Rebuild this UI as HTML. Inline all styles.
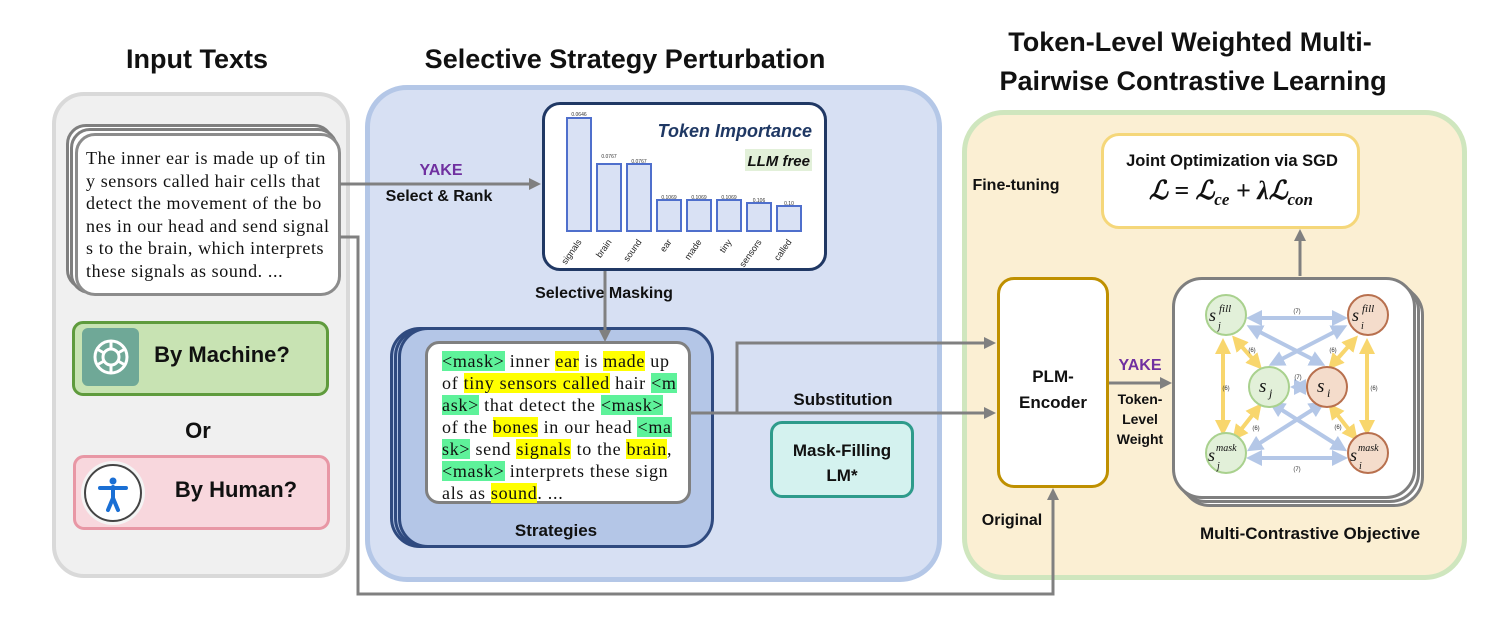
<!DOCTYPE html>
<html><head><meta charset="utf-8">
<style>
body{margin:0;width:1495px;height:620px;background:#fff;position:relative;overflow:hidden;font-family:"Liberation Sans",sans-serif;}
.a{position:absolute;box-sizing:border-box;}
.t{position:absolute;font-weight:bold;color:#111;white-space:nowrap;transform:translateX(-50%);}
.serif{font-family:"Liberation Serif",serif;}
.g{background:#5ef29a;}
.y{background:#ffff00;}
</style></head><body>
<!-- titles -->
<div class="t" style="left:197px;top:44px;font-size:27px;">Input Texts</div>
<div class="t" style="left:625px;top:44px;font-size:27px;">Selective Strategy Perturbation</div>
<div class="t" style="left:1190px;top:27px;font-size:27px;">Token-Level Weighted Multi-</div>
<div class="t" style="left:1193px;top:66px;font-size:27px;">Pairwise Contrastive Learning</div>

<!-- left panel -->
<div class="a" style="left:52px;top:92px;width:298px;height:486px;background:#f0f0f0;border:4px solid #d9d9d9;border-radius:32px;"></div>
<div class="a" style="left:66px;top:124px;width:268px;height:166px;background:#fff;border:3px solid #7f7f7f;border-radius:20px;"></div>
<div class="a" style="left:70px;top:128px;width:268px;height:166px;background:#fff;border:3px solid #7f7f7f;border-radius:20px;"></div>
<div class="a serif" style="left:75px;top:133px;width:266px;height:163px;background:#fff;border:3px solid #8c8c8c;border-radius:20px;padding:11px 0 0 8px;font-size:18px;letter-spacing:0.6px;line-height:22.5px;color:#111;white-space:nowrap;">The inner ear is made up of tin<br>y sensors called hair cells that<br>detect the movement of the bo<br>nes in our head and send signal<br>s to the brain, which interprets<br>these signals as sound. ...</div>

<div class="a" style="left:72px;top:321px;width:257px;height:75px;background:#c8e3b3;border:3px solid #5f9b3d;border-radius:11px;"></div>
<div class="a" style="left:82px;top:328px;width:57px;height:58px;background:#6fa897;border-radius:6px;"></div>
<svg class="a" style="left:86px;top:333px" width="50" height="48" viewBox="0 0 50 48"><g fill="none" stroke="#fff" stroke-width="3"><circle cx="25" cy="24" r="16"/><circle cx="25" cy="24" r="8"/><path d="M25 8 L25 16 M39 16 L32 20 M39 32 L32 28 M25 40 L25 32 M11 32 L18 28 M11 16 L18 20"/></g></svg>
<div class="t" style="left:222px;top:342px;font-size:22px;">By Machine?</div>
<div class="t" style="left:198px;top:418px;font-size:22px;">Or</div>
<div class="a" style="left:73px;top:455px;width:257px;height:75px;background:#f8d7dd;border:3px solid #e897a5;border-radius:11px;"></div>
<div class="a" style="left:84px;top:464px;width:58px;height:58px;background:#fff;border:2px solid #444;border-radius:50%;box-shadow:0 0 0 3px #f4f4f4;"></div>
<svg class="a" style="left:90px;top:470px" width="46" height="46" viewBox="0 0 46 46"><circle cx="23" cy="11" r="3.5" fill="#1a6fd4"/><path d="M10 18 L36 18 M23 17 L23 28 M23 28 L18 40 M23 28 L28 40" stroke="#1a6fd4" stroke-width="4" fill="none" stroke-linecap="round"/></svg>
<div class="t" style="left:236px;top:477px;font-size:22px;">By Human?</div>

<!-- middle panel -->
<div class="a" style="left:365px;top:85px;width:577px;height:497px;background:#d7e0f3;border:5px solid #b4c7e7;border-radius:42px;"></div>
<div class="a" style="left:542px;top:102px;width:285px;height:169px;background:#fff;border:3px solid #203864;border-radius:18px;"></div>
<svg class="a" style="left:542px;top:102px" width="285" height="169">
<g fill="#d9e1f4" stroke="#4f6fcc" stroke-width="2">
<rect x="25" y="16" width="24" height="113"/><rect x="55" y="62" width="24" height="67"/><rect x="85" y="62" width="24" height="67"/><rect x="115" y="98" width="24" height="31"/><rect x="145" y="98" width="24" height="31"/><rect x="175" y="98" width="24" height="31"/><rect x="205" y="101" width="24" height="28"/><rect x="235" y="104" width="24" height="25"/>
</g>
<g font-size="5" fill="#333" text-anchor="middle" font-family="Liberation Sans">
<text x="37" y="14">0.0646</text><text x="67" y="56">0.0767</text><text x="97" y="61">0.0767</text><text x="127" y="97">0.1069</text><text x="157" y="97">0.1069</text><text x="187" y="97">0.1069</text><text x="217" y="100">0.106</text><text x="247" y="103">0.10</text>
</g>
<g font-size="9" fill="#222" font-family="Liberation Sans" text-anchor="end">
<text transform="translate(40,140) rotate(-55)">signals</text><text transform="translate(70,140) rotate(-55)">brain</text><text transform="translate(100,140) rotate(-55)">sound</text><text transform="translate(130,140) rotate(-55)">ear</text><text transform="translate(160,140) rotate(-55)">made</text><text transform="translate(190,140) rotate(-55)">tiny</text><text transform="translate(220,140) rotate(-55)">sensors</text><text transform="translate(250,140) rotate(-55)">called</text>
</g>
<text x="270" y="35" text-anchor="end" font-size="18" font-weight="bold" font-style="italic" fill="#1f3864" font-family="Liberation Sans">Token Importance</text>
<rect x="203" y="47" width="67" height="22" fill="#e2f0d9"/>
<text x="268" y="64" text-anchor="end" font-size="15" font-weight="bold" font-style="italic" fill="#111" font-family="Liberation Sans">LLM free</text>
</svg>
<div class="t" style="left:441px;top:162px;font-size:16px;color:#7030a0;">YAKE</div>
<div class="t" style="left:439px;top:188px;font-size:16px;">Select &amp; Rank</div>
<div class="t" style="left:604px;top:285px;font-size:16px;">Selective Masking</div>

<div class="a" style="left:390px;top:327px;width:316px;height:221px;background:#b4c6e7;border:3px solid #2f4a7f;border-radius:30px;"></div>
<div class="a" style="left:394px;top:327px;width:316px;height:221px;background:#b4c6e7;border:3px solid #2f4a7f;border-radius:30px;"></div>
<div class="a" style="left:398px;top:327px;width:316px;height:221px;background:#b4c6e7;border:3px solid #2f4a7f;border-radius:30px;"></div>
<div class="a serif" style="left:425px;top:341px;width:266px;height:163px;background:#fff;border:3px solid #808080;border-radius:14px;padding:6px 0 0 14px;font-size:18px;letter-spacing:0.7px;line-height:22px;color:#111;white-space:nowrap;"><span class="g">&lt;mask&gt;</span> inner <span class="y">ear</span> is <span class="y">made</span> up<br>of <span class="y">tiny sensors called</span> hair <span class="g">&lt;m</span><br><span class="g">ask&gt;</span> that detect the <span class="g">&lt;mask&gt;</span><br>of the <span class="y">bones</span> in our head <span class="g">&lt;ma</span><br><span class="g">sk&gt;</span> send <span class="y">signals</span> to the <span class="y">brain</span>,<br><span class="g">&lt;mask&gt;</span> interprets these sign<br>als as <span class="y">sound</span>. ...</div>
<div class="t" style="left:556px;top:521px;font-size:17px;">Strategies</div>
<div class="t" style="left:843px;top:390px;font-size:17px;">Substitution</div>
<div class="a" style="left:770px;top:421px;width:144px;height:77px;background:#d4f2ef;border:3px solid #2e9b8b;border-radius:12px;"></div>
<div class="t" style="left:842px;top:438px;font-size:17px;text-align:center;line-height:25px;">Mask-Filling<br>LM*</div>

<!-- right panel -->
<div class="a" style="left:962px;top:110px;width:505px;height:470px;background:#fbefd3;border:5px solid #cfe6be;border-radius:42px;"></div>
<div class="a" style="left:1101px;top:133px;width:259px;height:96px;background:#fff;border:3px solid #f5d77a;border-radius:18px;"></div>
<div class="t" style="left:1232px;top:152px;font-size:16.5px;">Joint Optimization via SGD</div>
<div class="t serif" style="left:1231px;top:176px;font-size:26px;font-style:italic;color:#111;">ℒ = ℒ<sub style="font-size:17px">ce</sub> + λℒ<sub style="font-size:17px">con</sub></div>
<div class="t" style="left:1016px;top:177px;font-size:16px;">Fine-tuning</div>
<div class="t" style="left:1012px;top:512px;font-size:16px;">Original</div>
<div class="a" style="left:997px;top:277px;width:112px;height:211px;background:#fff;border:3px solid #bf9000;border-radius:17px;"></div>
<div class="t" style="left:1053px;top:364px;font-size:17px;text-align:center;line-height:26px;">PLM-<br>Encoder</div>
<div class="t" style="left:1140px;top:357px;font-size:16px;color:#7030a0;">YAKE</div>
<div class="t" style="left:1140px;top:389px;font-size:14px;text-align:center;line-height:20px;">Token-<br>Level<br>Weight</div>

<div class="a" style="left:1180px;top:285px;width:244px;height:222px;background:#fff;border:3px solid #7f7f7f;border-radius:30px;"></div>
<div class="a" style="left:1176px;top:281px;width:244px;height:222px;background:#fff;border:3px solid #7f7f7f;border-radius:30px;"></div>
<div class="a" style="left:1172px;top:277px;width:244px;height:222px;background:#fff;border:3px solid #7f7f7f;border-radius:30px;"></div>
<svg class="a" style="left:1170px;top:280px" width="260" height="220">
<defs>
<marker id="bb" markerWidth="4" markerHeight="4" refX="2.5" refY="2" orient="auto-start-reverse"><path d="M0,0 L4,2 L0,4z" fill="#b4c7e7"/></marker>
<marker id="yy" markerWidth="4" markerHeight="4" refX="2.5" refY="2" orient="auto-start-reverse"><path d="M0,0 L4,2 L0,4z" fill="#f8d66d"/></marker>
</defs>
<g stroke="#b4c7e7" stroke-width="4" fill="none" marker-start="url(#bb)" marker-end="url(#bb)">
<line x1="82" y1="38" x2="172" y2="38"/><line x1="82" y1="178" x2="172" y2="178"/>
<line x1="82" y1="48" x2="150" y2="83"/><line x1="172" y1="48" x2="104" y2="83"/>
<line x1="82" y1="168" x2="150" y2="125"/><line x1="172" y1="168" x2="104" y2="125"/>
<line x1="126" y1="107" x2="134" y2="107"/>
</g>
<g stroke="#f8d66d" stroke-width="4" fill="none" marker-start="url(#yy)" marker-end="url(#yy)">
<line x1="53" y1="64" x2="53" y2="150"/><line x1="197" y1="64" x2="197" y2="150"/>
<line x1="66" y1="60" x2="88" y2="85"/><line x1="184" y1="60" x2="162" y2="85"/>
<line x1="66" y1="156" x2="88" y2="128"/><line x1="184" y1="156" x2="162" y2="128"/>
</g>
<g font-size="6" fill="#333" font-family="Liberation Sans" text-anchor="middle">
<text x="127" y="33">(7)</text><text x="127" y="191">(7)</text><text x="128" y="99">(7)</text>
<text x="82" y="72">(6)</text><text x="163" y="72">(6)</text><text x="56" y="110">(6)</text><text x="204" y="110">(6)</text><text x="86" y="150">(6)</text><text x="168" y="149">(6)</text>
</g>
<g stroke-width="2">
<circle cx="56" cy="35" r="20" fill="#e2f0d9" stroke="#a9d18e"/><circle cx="198" cy="35" r="20" fill="#f4dccb" stroke="#b8704e"/>
<circle cx="99" cy="107" r="20" fill="#e2f0d9" stroke="#a9d18e"/><circle cx="157" cy="107" r="20" fill="#f4dccb" stroke="#b8704e"/>
<circle cx="56" cy="173" r="20" fill="#e2f0d9" stroke="#a9d18e"/><circle cx="198" cy="173" r="20" fill="#f4dccb" stroke="#b8704e"/>
</g>
<g font-family="Liberation Serif" font-style="italic" fill="#111">
<text x="39" y="41" font-size="18">s</text><text x="48" y="49" font-size="10">j</text><text x="49" y="32" font-size="11">fill</text>
<text x="182" y="41" font-size="18">s</text><text x="191" y="49" font-size="10">i</text><text x="192" y="32" font-size="11">fill</text>
<text x="89" y="112" font-size="19">s</text><text x="99" y="117" font-size="12">j</text>
<text x="147" y="112" font-size="19">s</text><text x="157" y="117" font-size="12">i</text>
<text x="38" y="181" font-size="18">s</text><text x="47" y="189" font-size="10">j</text><text x="46" y="171" font-size="10">mask</text>
<text x="180" y="181" font-size="18">s</text><text x="189" y="189" font-size="10">i</text><text x="188" y="171" font-size="10">mask</text>
</g>
</svg>
<div class="t" style="left:1310px;top:524px;font-size:17px;">Multi-Contrastive Objective</div>

<!-- connectors -->
<svg class="a" style="left:0;top:0" width="1495" height="620">
<defs><marker id="ga" markerWidth="4" markerHeight="4" refX="3" refY="2" orient="auto"><path d="M0,0 L4,2 L0,4z" fill="#808080"/></marker></defs>
<g stroke="#808080" stroke-width="3" fill="none">
<line x1="340" y1="184" x2="538" y2="184" marker-end="url(#ga)"/>
<line x1="605" y1="271" x2="605" y2="339" marker-end="url(#ga)"/>
<polyline points="690,413 993,413" marker-end="url(#ga)"/>
<polyline points="737,413 737,343 993,343" marker-end="url(#ga)"/>
<polyline points="340,237 358,237 358,594 1053,594 1053,491" marker-end="url(#ga)"/>
<line x1="1109" y1="383" x2="1169" y2="383" marker-end="url(#ga)"/>
<line x1="1300" y1="276" x2="1300" y2="232" marker-end="url(#ga)"/>
</g>
</svg>
</body></html>
